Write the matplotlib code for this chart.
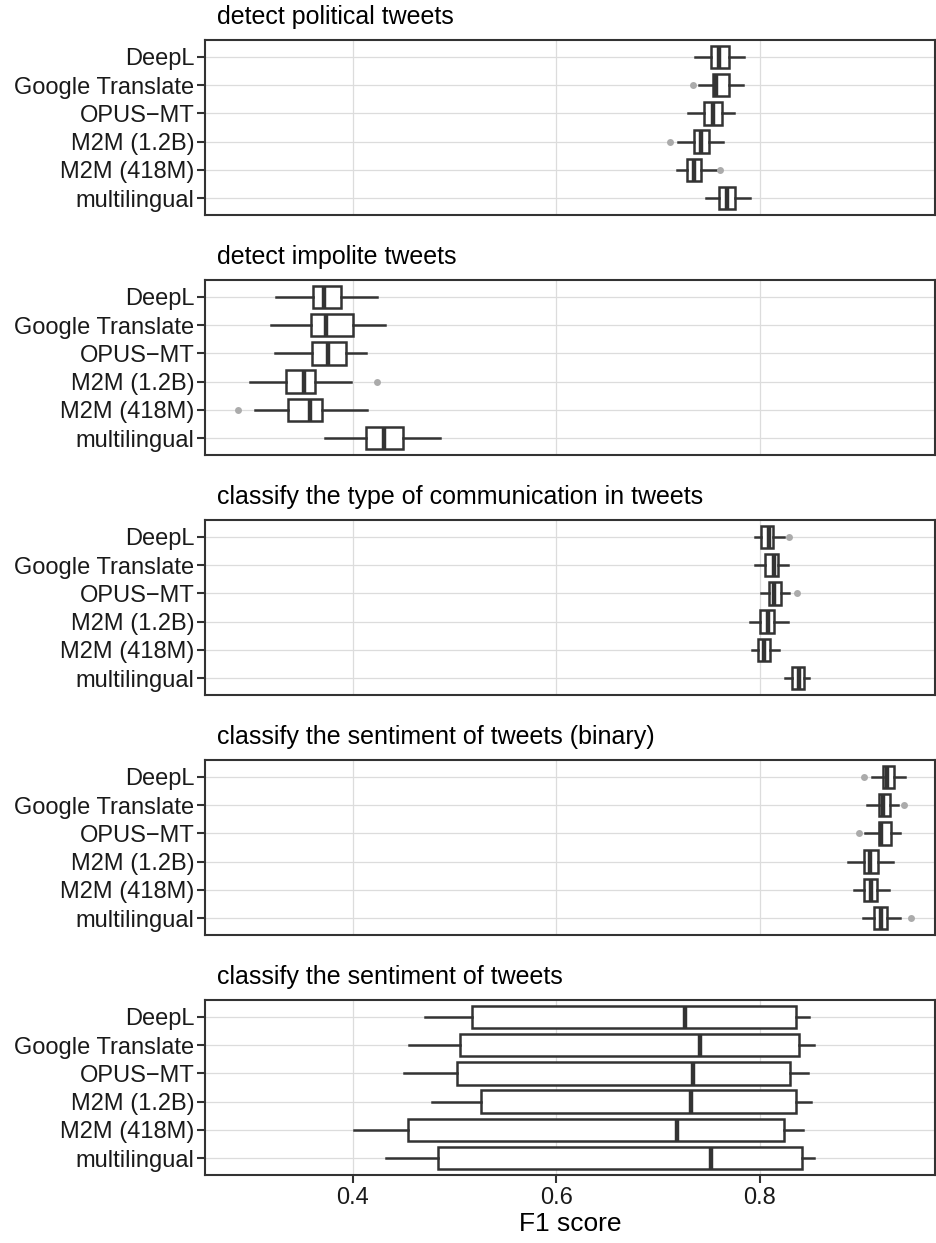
#Imports
import matplotlib
matplotlib.use("Agg")
import matplotlib.pyplot as plt

plt.rcParams["font.family"] = ["Liberation Sans", "DejaVu Sans"]

#Chart data
models = ["DeepL", "Google Translate", "OPUS\u2212MT", "M2M (1.2B)", "M2M (418M)", "multilingual"]
tasks = ["detect political tweets",
         "detect impolite tweets",
         "classify the type of communication in tweets",
         "classify the sentiment of tweets (binary)",
         "classify the sentiment of tweets"]

whislo = [[0.736, 0.740, 0.729, 0.720, 0.719, 0.747],
          [0.325, 0.320, 0.324, 0.299, 0.304, 0.373],
          [0.795, 0.795, 0.801, 0.790, 0.792, 0.825],
          [0.910, 0.905, 0.903, 0.887, 0.892, 0.901],
          [0.471, 0.455, 0.450, 0.478, 0.401, 0.433]]
q1 = [[0.752, 0.754, 0.745, 0.735, 0.728, 0.760],
      [0.361, 0.359, 0.360, 0.335, 0.337, 0.413],
      [0.801, 0.805, 0.809, 0.800, 0.798, 0.832],
      [0.921, 0.917, 0.917, 0.902, 0.902, 0.912],
      [0.517, 0.505, 0.503, 0.526, 0.454, 0.484]]
med = [[0.760, 0.757, 0.754, 0.742, 0.735, 0.768],
       [0.372, 0.374, 0.376, 0.352, 0.358, 0.431],
       [0.809, 0.814, 0.814, 0.808, 0.804, 0.838],
       [0.925, 0.921, 0.919, 0.908, 0.909, 0.919],
       [0.726, 0.741, 0.734, 0.732, 0.719, 0.752]]
q3 = [[0.770, 0.770, 0.763, 0.750, 0.742, 0.776],
      [0.389, 0.400, 0.393, 0.363, 0.370, 0.449],
      [0.813, 0.818, 0.821, 0.814, 0.810, 0.843],
      [0.932, 0.928, 0.929, 0.916, 0.915, 0.925],
      [0.835, 0.838, 0.830, 0.835, 0.824, 0.841]]
whishi = [[0.784, 0.783, 0.775, 0.764, 0.759, 0.790],
          [0.424, 0.432, 0.413, 0.398, 0.414, 0.486],
          [0.824, 0.828, 0.829, 0.828, 0.819, 0.848],
          [0.943, 0.936, 0.938, 0.931, 0.927, 0.938],
          [0.848, 0.853, 0.847, 0.850, 0.842, 0.853]]
outliers = [[[], [0.734], [], [0.712], [0.761], []],
            [[], [], [], [0.424], [0.287], []],
            [[0.829], [], [0.836], [], [], []],
            [[0.902], [0.942], [0.897], [], [], [0.948]],
            [[], [], [], [], [], []]]

dark = "#333333"
W, H = 936, 1243
fig = plt.figure(figsize=(W / 100, H / 100), dpi=100)

panelTops = [40, 280, 520, 760, 1000]
panelH = 175
left, right = 205, 935

for i, task in enumerate(tasks):
    top = panelTops[i]
    ax = fig.add_axes([left / W, 1 - (top + panelH) / H, (right - left) / W, panelH / H])
    stats = []
    for j, m in enumerate(models):
        stats.append(dict(label=m, whislo=whislo[i][j], q1=q1[i][j], med=med[i][j],
                          q3=q3[i][j], whishi=whishi[i][j], fliers=outliers[i][j]))
    pos = list(range(1, len(models) + 1))
    ax.bxp(stats, positions=pos, widths=0.8, orientation="horizontal", patch_artist=True,
           showcaps=False, manage_ticks=False,
           boxprops=dict(facecolor="white", edgecolor=dark, linewidth=1.8),
           medianprops=dict(color=dark, linewidth=3.2, solid_capstyle="butt"),
           whiskerprops=dict(color=dark, linewidth=1.8),
           flierprops=dict(marker="o", markerfacecolor="#ababab", markeredgecolor="none", markersize=5),
           zorder=3)
    ax.set_ylim(6.6, 0.4)
    ax.set_xlim(0.255, 0.972)
    ax.set_yticks(pos)
    ax.set_yticklabels(models, fontsize=17, color="#1a1a1a")
    ax.set_xticks([0.4, 0.6, 0.8])
    ax.grid(True, color="#dcdcdc", linewidth=0.9, zorder=0)
    ax.set_axisbelow(True)
    for s in ax.spines.values():
        s.set_color(dark)
        s.set_linewidth(1.5)
    ax.tick_params(axis="y", length=5.5, width=1.5, color=dark, pad=2)
    if i < len(tasks) - 1:
        ax.tick_params(axis="x", length=0, labelbottom=False)
    else:
        ax.tick_params(axis="x", length=5.5, width=1.5, color=dark, labelsize=17, pad=3)
        ax.set_xticklabels(["0.4", "0.6", "0.8"], color="#1a1a1a")
        ax.set_xlabel("F1 score", fontsize=19, labelpad=2)
    fig.text(217 / W, 1 - (top - 23) / H, task, fontsize=18, ha="left", va="center")

plt.savefig("out.png", dpi=100)
plt.close()
